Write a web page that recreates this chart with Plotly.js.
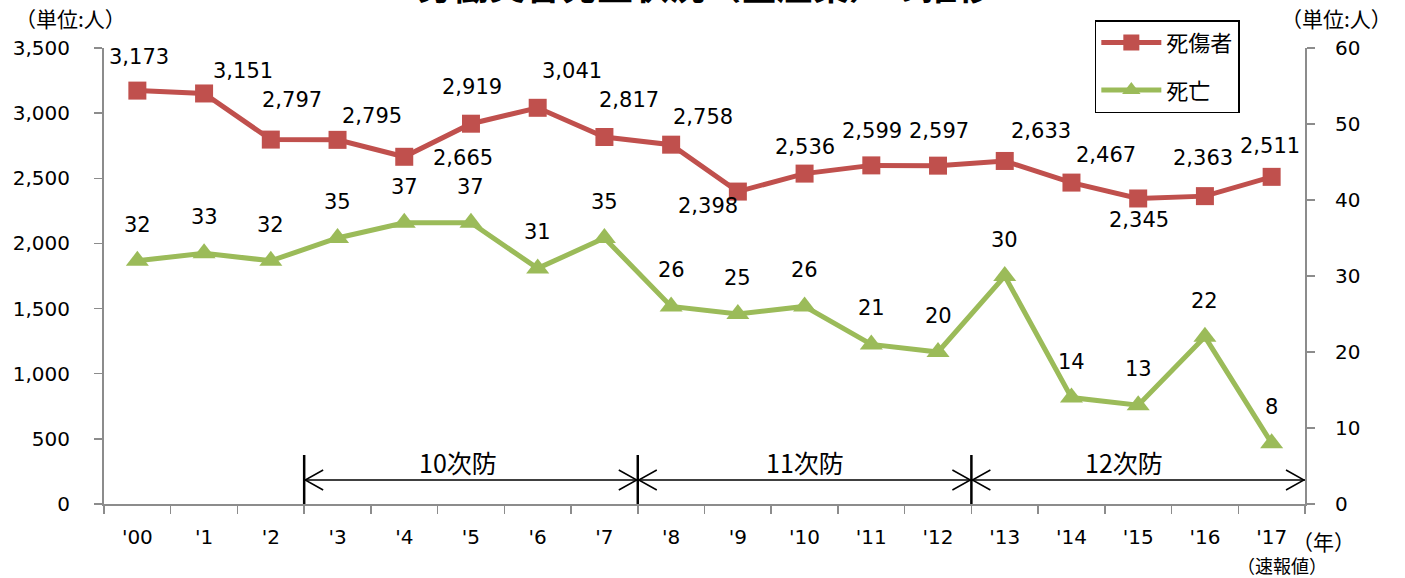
<!DOCTYPE html>
<html>
<head>
<meta charset="utf-8">
<script src="https://cdn.plot.ly/plotly-3.0.1.min.js"></script>
<style>html,body{margin:0;padding:0;background:#fff;}#chart{width:1405px;height:578px;}</style>
</head>
<body>
<div id="chart"></div>
<script>
// ---- data ----
const years = ["'00","'1","'2","'3","'4","'5","'6","'7","'8","'9","'10","'11","'12","'13","'14","'15","'16","'17"];
const casualties = [3173, 3151, 2797, 2795, 2665, 2919, 3041, 2817, 2758, 2398, 2536, 2599, 2597, 2633, 2467, 2345, 2363, 2511];
const deaths = [32, 33, 32, 35, 37, 37, 31, 35, 26, 25, 26, 21, 20, 30, 14, 13, 22, 8];
const periodNames = ["10次防", "11次防", "12次防"];
const periodStartIdx = [2.5, 7.5, 12.5];
const periodEndIdx = [7.5, 12.5, 17.5];

// label offsets (pixels) for data labels
const casualtyLabelShift = [[2,34],[39,22],[21,40],[34,24],[59,-1],[1,37],[34,37],[25,37],[32,28],[-30,-14],[0,27],[1,34],[1,35],[36,30],[35,28],[1,-22],[-2,38],[-2,31]];
const deathLabelShift = 36;
const periodLabelShift = [-13, 0, -14];

const RED = '#C0504D', GREEN = '#9BBB59', AXIS = '#8c8c8c';
const NUMFONT = 'DejaVu Sans, Noto Sans CJK JP, sans-serif';
const JPFONT = 'Noto Sans CJK JP, sans-serif';

const traces = [
  {x: years, y: casualties, name: '死傷者', type: 'scatter', mode: 'lines+markers',
   line: {color: RED, width: 5}, marker: {symbol: 'square', size: 18, color: RED},
   yaxis: 'y', legendgroup: 'a'},
  {x: years, y: deaths, name: '死亡', type: 'scatter', mode: 'lines+markers',
   line: {color: GREEN, width: 5}, marker: {symbol: 'triangle-up', size: 20, color: GREEN},
   yaxis: 'y2', legendgroup: 'b'}
];

const annotations = [];
casualties.forEach((v, i) => {
  annotations.push({x: years[i], y: v, xref: 'x', yref: 'y', text: v.toLocaleString('en-US'),
    showarrow: false, xshift: casualtyLabelShift[i][0], yshift: casualtyLabelShift[i][1],
    font: {family: NUMFONT, size: 21, color: '#000'}});
});
deaths.forEach((v, i) => {
  annotations.push({x: years[i], y: v, xref: 'x', yref: 'y2', text: String(v),
    showarrow: false, yshift: deathLabelShift,
    font: {family: NUMFONT, size: 21, color: '#000'}});
});
periodNames.forEach((n, k) => {
  annotations.push({x: (periodStartIdx[k] + periodEndIdx[k]) / 2, y: 322, xref: 'x', yref: 'y',
    xshift: periodLabelShift[k],
    text: n, showarrow: false, font: {family: JPFONT, size: 25, color: '#000'}});
});
annotations.push({x: 0.5, y: 1.079, xref: 'paper', yref: 'paper', yanchor: 'bottom', xanchor: 'center',
  text: '<b>労働災害発生状況（全産業）の推移</b>', showarrow: false,
  font: {family: JPFONT, size: 36, color: '#000'}});
annotations.push({x: -0.028, y: 1.066, xref: 'paper', yref: 'paper', xanchor: 'center', yanchor: 'middle',
  text: '（単位:人）', showarrow: false, font: {family: JPFONT, size: 21, color: '#000'}});
annotations.push({x: 1.0265, y: 1.066, xref: 'paper', yref: 'paper', xanchor: 'center', yanchor: 'middle',
  text: '（単位:人）', showarrow: false, font: {family: JPFONT, size: 21, color: '#000'}});
annotations.push({x: 1.0158, y: -0.081, xref: 'paper', yref: 'paper', xanchor: 'center', yanchor: 'middle',
  text: '（年）', showarrow: false, font: {family: JPFONT, size: 21, color: '#000'}});
annotations.push({x: 0.9808, y: -0.134, xref: 'paper', yref: 'paper', xanchor: 'center', yanchor: 'middle',
  text: '（速報値）', showarrow: false, font: {family: JPFONT, size: 18, color: '#000'}});

const shapes = [];
const arrowY = 184;
periodStartIdx.forEach((s, k) => {
  shapes.push({type: 'line', xref: 'x', yref: 'y', x0: s, x1: s, y0: 0, y1: 376, line: {color: '#000', width: 2.5}});
  shapes.push({type: 'line', xref: 'x', yref: 'y', x0: s, x1: periodEndIdx[k], y0: arrowY, y1: arrowY, line: {color: '#000', width: 1.5}});
  shapes.push({type: 'path', xref: 'x', yref: 'y', xsizemode: 'pixel', ysizemode: 'pixel', xanchor: s, yanchor: arrowY,
    path: 'M 19 10 L 1 0 L 19 -10', line: {color: '#000', width: 1.5}});
  shapes.push({type: 'path', xref: 'x', yref: 'y', xsizemode: 'pixel', ysizemode: 'pixel', xanchor: periodEndIdx[k], yanchor: arrowY,
    path: 'M -19 10 L -1 0 L -19 -10', line: {color: '#000', width: 1.5}});
});

const layout = {
  width: 1405, height: 578,
  margin: {l: 104, r: 100, t: 48, b: 74},
  paper_bgcolor: '#fff', plot_bgcolor: '#fff',
  font: {family: NUMFONT, size: 20, color: '#000'},
  showlegend: true,
  legend: {x: 0.825, y: 1.061, xanchor: 'left', yanchor: 'top', bgcolor: '#fff',
    bordercolor: '#000', borderwidth: 1.5, traceorder: 'grouped', tracegroupgap: 16,
    itemwidth: 60,
    font: {family: JPFONT, size: 22, color: '#000'}},
  xaxis: {type: 'category', range: [-0.5, 17.5], showgrid: false, zeroline: false,
    showline: true, linecolor: AXIS, linewidth: 2, ticks: 'outside', tickson: 'boundaries',
    ticklen: 8, tickwidth: 1.5, tickcolor: AXIS, ticklabelstandoff: 14,
    tickfont: {family: NUMFONT, size: 20, color: '#000'}},
  yaxis: {range: [0, 3500], dtick: 500, tickformat: ',', showgrid: false, zeroline: false,
    showline: true, linecolor: AXIS, linewidth: 2, ticks: 'outside', ticklen: 8, tickwidth: 1.5,
    tickcolor: AXIS, ticklabelstandoff: 20, tickfont: {family: NUMFONT, size: 20, color: '#000'}},
  yaxis2: {range: [0, 60], dtick: 10, overlaying: 'y', side: 'right', showgrid: false, zeroline: false,
    showline: true, linecolor: AXIS, linewidth: 2, ticks: 'outside', ticklen: 8, tickwidth: 1.5,
    tickcolor: AXIS, ticklabelstandoff: 16, tickfont: {family: NUMFONT, size: 20, color: '#000'}},
  annotations: annotations,
  shapes: shapes
};

Plotly.newPlot('chart', traces, layout, {displayModeBar: false, staticPlot: true});
</script>
</body>
</html>
